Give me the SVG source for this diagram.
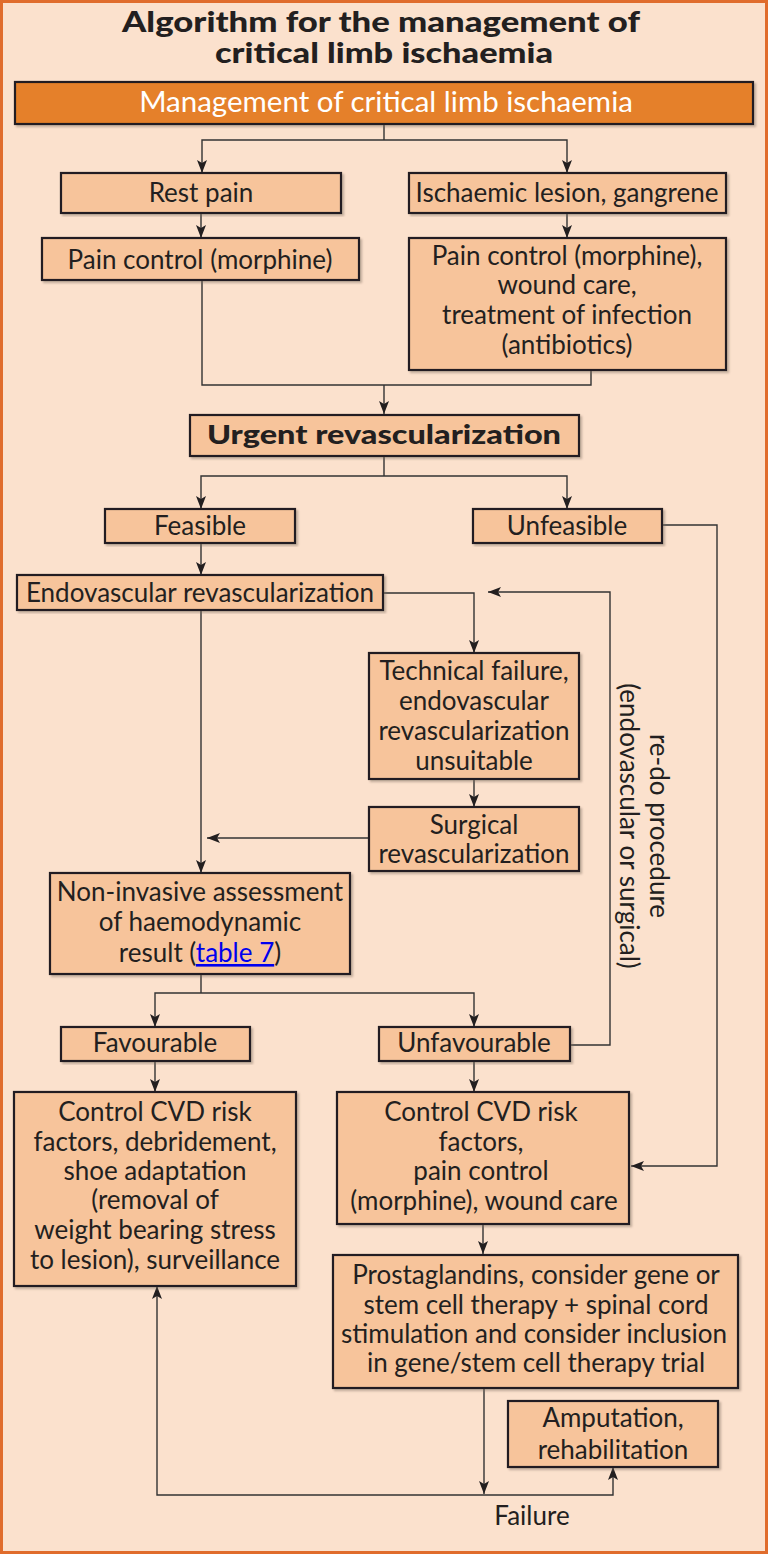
<svg xmlns="http://www.w3.org/2000/svg" width="768" height="1554" viewBox="0 0 768 1554">
<style>
.bg{fill:#fbe1cd;stroke:#e06c2c;stroke-width:3}
.box{fill:#f7c49b;stroke:#231f20;stroke-width:2.2}
.hdr{fill:#e5802a;stroke:#231f20;stroke-width:2.2}
.t{font-family:Lato,"Liberation Sans",sans-serif;font-size:26px;fill:#231f20;text-anchor:middle}
.w{fill:#ffffff;font-size:29.5px}
.b{font-weight:900;font-size:27px}
.ttl{font-family:Lato,"Liberation Sans",sans-serif;font-size:28px;font-weight:900;fill:#231f20;text-anchor:middle}
.c{fill:none;stroke:#333333;stroke-width:1.4}
.a{marker-end:url(#ah)}
.lnk{fill:#0000ee;text-decoration:underline}
</style>
<defs>
<marker id="ah" markerUnits="userSpaceOnUse" markerWidth="14" markerHeight="10" refX="13" refY="5" orient="auto">
<path d="M0,0 L13,5 L0,10 L3,5 z" fill="#231f20"/>
</marker>
<filter id="sh" x="-5%" y="-5%" width="110%" height="115%">
<feDropShadow dx="2" dy="2" stdDeviation="1.2" flood-color="#7a6a5e" flood-opacity="0.45"/>
</filter>
</defs>
<rect class="bg" x="1.5" y="1.5" width="765" height="1551"/>
<g id="title">
<text class="ttl" x="381" y="32" textLength="518" lengthAdjust="spacingAndGlyphs">Algorithm for the management of</text>
<text class="ttl" x="384" y="63" textLength="338" lengthAdjust="spacingAndGlyphs">critical limb ischaemia</text>
</g>
<g id="connectors">
<path class="c" d="M384,124 V140"/>
<path class="c a" d="M384,140 H202 V173"/>
<path class="c a" d="M384,140 H567 V173"/>
<path class="c a" d="M201,213 V238"/>
<path class="c a" d="M567,213 V238"/>
<path class="c" d="M202,280 V385 H591 V370"/>
<path class="c a" d="M384,385 V414"/>
<path class="c" d="M384,456 V476"/>
<path class="c a" d="M384,476 H201 V509"/>
<path class="c a" d="M384,476 H567 V509"/>
<path class="c a" d="M662,525 H717 V1166 H631"/>
<path class="c a" d="M201,543 V575"/>
<path class="c a" d="M383,593 H474 V653"/>
<path class="c a" d="M201,610 V873"/>
<path class="c a" d="M474,779 V807"/>
<path class="c a" d="M369,838 H207"/>
<path class="c" d="M201,974 V993"/>
<path class="c a" d="M201,993 H155 V1027"/>
<path class="c a" d="M201,993 H474 V1027"/>
<path class="c a" d="M155,1061 V1092"/>
<path class="c a" d="M474,1061 V1092"/>
<path class="c a" d="M570,1045 H610 V592 H488"/>
<path class="c a" d="M483,1224 V1254"/>
<path class="c a" d="M484,1388 V1494"/>
<path class="c a" d="M484,1495 H157 V1286"/>
<path class="c a" d="M484,1495 H613 V1467"/>
</g>
<g id="redo-label">
<text class="t" transform="translate(650,826) rotate(90)"><tspan x="0" y="0">re-do procedure</tspan><tspan x="0" y="30">(endovascular or surgical)</tspan></text>
</g>
<g id="failure-label"><text class="t" x="532" y="1525">Failure</text></g>
<g id="n-header"><rect class="hdr" filter="url(#sh)" x="15" y="82" width="738" height="42"/><text class="t w" x="386" y="112">Management of critical limb ischaemia</text></g>
<g id="n-restpain"><rect class="box" filter="url(#sh)" x="61" y="173" width="280" height="40"/><text class="t" x="201" y="202">Rest pain</text></g>
<g id="n-lesion"><rect class="box" filter="url(#sh)" x="409" y="173" width="317" height="40"/><text class="t" x="567" y="202">Ischaemic lesion, gangrene</text></g>
<g id="n-painctrl"><rect class="box" filter="url(#sh)" x="42" y="238" width="317" height="42"/><text class="t" x="200" y="269">Pain control (morphine)</text></g>
<g id="n-painwound"><rect class="box" filter="url(#sh)" x="409" y="238" width="317" height="132"/><text class="t"><tspan x="567" y="265">Pain control (morphine),</tspan><tspan x="567" y="294">wound care,</tspan><tspan x="567" y="324">treatment of infection</tspan><tspan x="567" y="354">(antibiotics)</tspan></text></g>
<g id="n-urgent"><rect class="box" filter="url(#sh)" x="190" y="415" width="389" height="41"/><text class="t b" x="384" y="444" textLength="354" lengthAdjust="spacingAndGlyphs">Urgent revascularization</text></g>
<g id="n-feasible"><rect class="box" filter="url(#sh)" x="105" y="509" width="190" height="34"/><text class="t" x="200" y="535">Feasible</text></g>
<g id="n-unfeasible"><rect class="box" filter="url(#sh)" x="473" y="509" width="189" height="34"/><text class="t" x="567" y="535">Unfeasible</text></g>
<g id="n-endo"><rect class="box" filter="url(#sh)" x="17" y="575" width="366" height="35"/><text class="t" x="200" y="602">Endovascular revascularization</text></g>
<g id="n-techfail"><rect class="box" filter="url(#sh)" x="369" y="653" width="210" height="126"/><text class="t"><tspan x="474" y="680">Technical failure,</tspan><tspan x="474" y="710">endovascular</tspan><tspan x="474" y="740">revascularization</tspan><tspan x="474" y="770">unsuitable</tspan></text></g>
<g id="n-surgical"><rect class="box" filter="url(#sh)" x="369" y="807" width="210" height="64"/><text class="t"><tspan x="474" y="834">Surgical</tspan><tspan x="474" y="863">revascularization</tspan></text></g>
<g id="n-noninv"><rect class="box" filter="url(#sh)" x="50" y="873" width="300" height="101"/><text class="t"><tspan x="200" y="901">Non-invasive assessment</tspan><tspan x="200" y="931">of haemodynamic</tspan><tspan x="200" y="962">result (<tspan class="lnk">table 7</tspan>)</tspan></text></g>
<g id="n-fav"><rect class="box" filter="url(#sh)" x="61" y="1027" width="189" height="34"/><text class="t" x="155" y="1052">Favourable</text></g>
<g id="n-unfav"><rect class="box" filter="url(#sh)" x="379" y="1027" width="191" height="34"/><text class="t" x="474" y="1052">Unfavourable</text></g>
<g id="n-cvdleft"><rect class="box" filter="url(#sh)" x="14" y="1092" width="282" height="194"/><text class="t"><tspan x="155" y="1121">Control CVD risk</tspan><tspan x="155" y="1151">factors, debridement,</tspan><tspan x="155" y="1180">shoe adaptation</tspan><tspan x="155" y="1209">(removal of</tspan><tspan x="155" y="1239">weight bearing stress</tspan><tspan x="155" y="1269">to lesion), surveillance</tspan></text></g>
<g id="n-cvdright"><rect class="box" filter="url(#sh)" x="337" y="1092" width="292" height="132"/><text class="t"><tspan x="481" y="1121">Control CVD risk</tspan><tspan x="481" y="1151">factors,</tspan><tspan x="481" y="1180">pain control</tspan><tspan x="484" y="1210">(morphine), wound care</tspan></text></g>
<g id="n-prosta"><rect class="box" filter="url(#sh)" x="333" y="1255" width="405" height="133"/><text class="t"><tspan x="536" y="1284">Prostaglandins, consider gene or</tspan><tspan x="536" y="1314">stem cell therapy + spinal cord</tspan><tspan x="534" y="1343">stimulation and consider inclusion</tspan><tspan x="536" y="1372">in gene/stem cell therapy trial</tspan></text></g>
<g id="n-amput"><rect class="box" filter="url(#sh)" x="508" y="1401" width="210" height="66"/><text class="t"><tspan x="613" y="1427">Amputation,</tspan><tspan x="613" y="1459">rehabilitation</tspan></text></g>
</svg>
